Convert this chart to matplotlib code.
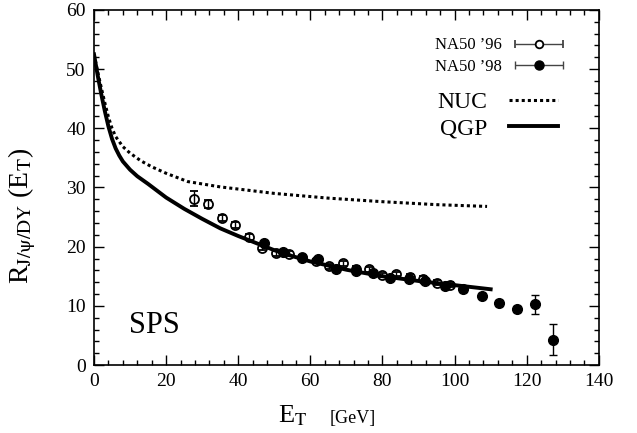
import matplotlib
matplotlib.use('Agg')
import numpy as np
import matplotlib.pyplot as plt
from matplotlib.ticker import MultipleLocator
from matplotlib.legend_handler import HandlerErrorbar

plt.rcParams['font.family'] = ['Liberation Serif', 'DejaVu Serif']
plt.rcParams['mathtext.fontset'] = 'stix'

# NA50 '96 (open circles)
et_96 = [27.7, 31.6, 35.4, 39.1, 42.9, 46.6, 50.4, 54.0, 57.7, 61.5, 65.3, 69.0,
         72.7, 76.3, 80.0, 83.8, 87.5, 91.3, 95.0, 98.7]
r_96 = [28.1, 27.2, 24.8, 23.7, 21.6, 19.8, 18.9, 18.8, 18.2, 17.6, 16.7, 17.2,
        16.3, 16.2, 15.2, 15.4, 14.9, 14.6, 13.9, 13.6]
err_96 = [1.3, 0.7, 0.5, 0.5, 0.5, 0.4, 0.4, 0.4, 0.4, 0.4, 0.4, 0.4,
          0.4, 0.4, 0.4, 0.4, 0.4, 0.4, 0.4, 0.4]

# NA50 '98 (filled circles)
et_98 = [47.2, 52.4, 57.7, 62.0, 67.0, 72.6, 77.3, 82.0, 87.4, 91.8, 97.3,
         102.3, 107.5, 112.4, 117.4, 122.3, 127.3]
r_98 = [20.6, 19.1, 18.1, 17.9, 16.2, 15.9, 15.5, 14.7, 14.6, 14.2, 13.3,
        12.8, 11.7, 10.5, 9.5, 10.3, 4.3]
err_98 = [0.4, 0.4, 0.4, 0.4, 0.4, 0.4, 0.4, 0.4, 0.4, 0.4, 0.4,
          0.4, 0.4, 0.5, 0.5, 1.6, 2.6]

# model curves
nuc_x = [0, 1, 2, 3, 4, 5, 6, 8, 10, 13, 16, 20, 26, 35, 50, 65, 80, 95, 109]
nuc_y = [52.5, 49.6, 46.9, 44.3, 41.9, 40.0, 38.6, 36.9, 35.8, 34.5, 33.5,
         32.4, 31.0, 30.1, 29.0, 28.2, 27.6, 27.1, 26.8]
qgp_x = [0, 1, 2, 3, 4, 5, 6, 7, 8, 10, 12, 15, 20, 25, 30, 35, 40, 45, 50,
         55, 60, 70, 80, 90, 100, 110]
qgp_y = [52.5, 49.0, 45.8, 42.9, 40.3, 38.2, 36.6, 35.4, 34.4, 33.0, 31.9,
         30.6, 28.3, 26.4, 24.7, 23.1, 21.8, 20.6, 19.4, 18.4, 17.5, 16.1,
         15.0, 14.2, 13.5, 12.8]

fig = plt.figure(figsize=(6.37, 4.33), dpi=100)
ax = fig.add_axes([0.1476, 0.157, 0.7925, 0.82])

nuc, = ax.plot(nuc_x, nuc_y, color='black', lw=2.2, linestyle=(0, (1, 1)))
qgp, = ax.plot(qgp_x, qgp_y, color='black', lw=2.8)

ax.errorbar(et_96, r_96, yerr=err_96, fmt='o', ms=6.5, mfc='none',
            mec='black', mew=1.3, color='black', elinewidth=1.0,
            capsize=3, capthick=1.0)
ax.errorbar(et_98, r_98, yerr=err_98, fmt='o', ms=7, mfc='black',
            mec='black', color='black', elinewidth=1.0,
            capsize=3, capthick=1.0)

# legend proxies with horizontal error bars
p96 = ax.errorbar([np.nan], [np.nan], xerr=[1], fmt='o', ms=5.5, mfc='white',
                  mec='black', mew=1.3, color='#444444', elinewidth=1.0,
                  capsize=3, capthick=1.0)
p98 = ax.errorbar([np.nan], [np.nan], xerr=[1], fmt='o', ms=6.5, mfc='black',
                  mec='black', color='#444444', elinewidth=1.0,
                  capsize=3, capthick=1.0)

ax.set_xlim(0, 140)
ax.set_ylim(0, 60)
ax.xaxis.set_major_locator(MultipleLocator(20))
ax.xaxis.set_minor_locator(MultipleLocator(4))
ax.yaxis.set_major_locator(MultipleLocator(10))
ax.yaxis.set_minor_locator(MultipleLocator(2))
ax.tick_params(which='both', direction='in', top=True, right=True,
               labelsize=14, width=1.0)
ax.tick_params(which='major', length=7, pad=6)
ax.tick_params(which='minor', length=3.5)
for s in ax.spines.values():
    s.set_linewidth(1.2)

ax.set_ylabel(r'R$_{\mathrm{J/\psi/DY}}$ (E$_\mathrm{T}$)', fontsize=20)
ax.yaxis.set_label_coords(-0.11, 0.42)
ax.text(0.364, -0.163, r'E$_\mathrm{T}$', transform=ax.transAxes,
        fontsize=19, ha='left', va='baseline')
ax.text(0.467, -0.163, '[GeV]', transform=ax.transAxes,
        fontsize=13, ha='left', va='baseline')

ax.text(0.07, 0.09, 'SPS', transform=ax.transAxes, fontsize=22)

leg1 = ax.legend([p96, p98], ['NA50 \u201996', 'NA50 \u201998'],
                 loc='upper right', bbox_to_anchor=(0.962, 0.965),
                 frameon=False, markerfirst=False, fontsize=12,
                 handlelength=3.1, labelspacing=0.35, handletextpad=0.65,
                 handler_map={type(p96): HandlerErrorbar(xerr_size=1.45)})
ax.add_artist(leg1)
ax.legend([nuc, qgp], ['NUC', 'QGP'], loc='upper right',
          bbox_to_anchor=(0.962, 0.83), frameon=False, markerfirst=False,
          fontsize=17, handlelength=2.1, labelspacing=0.2, handletextpad=0.9)

fig.savefig('out.png', dpi=100)
